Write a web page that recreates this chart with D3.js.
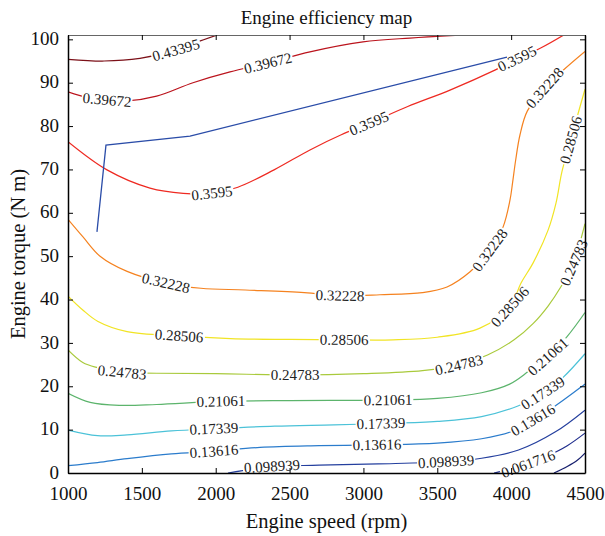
<!DOCTYPE html>
<html>
<head>
<meta charset="utf-8">
<script src="https://cdn.jsdelivr.net/npm/d3@7"></script>
<style>
body { margin: 0; background: #fff; }
text { font-family: "Liberation Serif", "Times New Roman", serif; }
</style>
</head>
<body>
<svg id="map" width="605" height="536"></svg>
<script>
// axis ticks
const speedTicks = [1000, 1500, 2000, 2500, 3000, 3500, 4000, 4500];
const torqueTicks = [0, 10, 20, 30, 40, 50, 60, 70, 80, 90, 100];

// contour levels, highest first; '' = no label drawn
const levelText = ['0.43395', '0.39672', '0.3595', '0.32228', '0.28506', '0.24783',
                   '0.21061', '0.17339', '0.13616', '0.098939', '0.061716', ''];

// contour lines, [speed rpm, torque N m]
const c43395 = [[1000, 95.4], [1244, 95.0], [1487, 95.6], [1731, 97.5], [1860, 99.2], [2002, 100.9]];
const c39672 = [[1000, 87.9], [1130, 86.6], [1264, 86.0], [1399, 85.8], [1600, 86.9], [1846, 90.0],
                [2097, 92.5], [2354, 94.5], [2638, 97.1], [2997, 99.4], [3315, 100.3], [3620, 100.9]];
const c3595 = [[1000, 76.4], [1264, 69.9], [1555, 65.7], [1780, 64.5], [1975, 64.5], [2150, 65.9],
               [2395, 69.9], [2638, 74.5], [2850, 78.0], [3038, 80.6], [3300, 84.5], [3586, 88.3],
               [3890, 92.9], [4040, 95.5], [4200, 98.0], [4351, 100.9]];
const c32228 = [[1000, 58.5], [1100, 54.5], [1217, 50.0], [1400, 46.5], [1663, 43.8], [1900, 42.6],
                [2200, 42.2], [2600, 41.6], [2841, 40.9], [3112, 41.1], [3400, 41.6], [3566, 42.9],
                [3722, 46.4], [3857, 51.4], [3945, 56.7], [3992, 62.9], [4010, 67.0], [4030, 72.0],
                [4060, 78.0], [4110, 83.5], [4229, 88.8], [4350, 92.8], [4500, 97.2]];
const c28506 = [[1000, 40.8], [1100, 37.6], [1200, 35.0], [1400, 32.6], [1752, 31.6], [2100, 31.0],
                [2500, 30.8], [2869, 30.7], [3200, 30.7], [3500, 31.3], [3789, 33.4], [3992, 38.3],
                [4067, 43.8], [4148, 48.4], [4250, 56.0], [4304, 62.3], [4344, 69.5], [4405, 76.8],
                [4450, 82.5], [4500, 88.5]];
const c24783 = [[1000, 28.4], [1100, 25.5], [1200, 24.3], [1366, 23.2], [1600, 23.0], [2000, 22.9],
                [2537, 22.6], [3000, 22.9], [3400, 23.6], [3647, 24.9], [3840, 27.2], [4020, 30.7],
                [4150, 34.5], [4250, 38.5], [4338, 43.0], [4425, 48.5], [4465, 53.0], [4500, 57.5]];
const c21061 = [[1000, 18.4], [1150, 16.3], [1350, 15.6], [1600, 15.8], [2036, 16.5], [2500, 16.7],
                [3166, 16.8], [3500, 17.2], [3800, 18.5], [3990, 20.5], [4120, 23.5], [4250, 26.8],
                [4380, 31.5], [4500, 37.0]];
const c17339 = [[1000, 9.9], [1200, 8.6], [1400, 8.8], [1700, 9.7], [1988, 10.2], [2400, 10.8],
                [2800, 11.1], [3119, 11.4], [3500, 11.9], [3800, 13.0], [4050, 15.5], [4215, 18.4],
                [4350, 22.0], [4500, 27.5]];
const c13616 = [[1000, 1.7], [1200, 2.4], [1400, 3.3], [1700, 4.4], [1988, 5.0], [2300, 5.9],
                [2700, 6.3], [3092, 6.5], [3500, 6.9], [3800, 7.9], [4000, 9.5], [4148, 12.2],
                [4300, 15.5], [4500, 20.5]];
const c098939 = [[2083, 0], [2250, 0.9], [2381, 1.5], [2700, 1.8], [3100, 2.1], [3560, 2.6],
                 [3800, 3.4], [4050, 5.3], [4300, 9.5], [4500, 14.5]];
const c061716 = [[3884, 0], [4000, 0.9], [4115, 2.1], [4250, 4.0], [4380, 6.3], [4500, 9.2]];
const c024493 = [[4290, 0], [4380, 1.5], [4450, 3.0], [4500, 4.6]];

// which points of each line carry the inline label
const c43395Labels = [3];
const c39672Labels = [2, 7];
const c3595Labels = [4, 9, 13];
const c32228Labels = [4, 8, 13, 20];
const c28506Labels = [4, 7, 11, 17];
const c24783Labels = [3, 6, 9, 15];
const c21061Labels = [4, 6, 11];
const c17339Labels = [4, 7, 11];
const c13616Labels = [4, 7, 11];
const c098939Labels = [2, 5];
const c061716Labels = [2];
const c024493Labels = [];

// operating line
const opSpeed = [1196, 1257, 1826, 3972];
const opTorque = [55.6, 75.6, 77.7, 95.9];

const contours = [
    [c43395, c43395Labels], [c39672, c39672Labels], [c3595, c3595Labels], [c32228, c32228Labels],
    [c28506, c28506Labels], [c24783, c24783Labels], [c21061, c21061Labels], [c17339, c17339Labels],
    [c13616, c13616Labels], [c098939, c098939Labels], [c061716, c061716Labels], [c024493, c024493Labels]
];

const lineColors = ['#7c1018', '#bb141d', '#ee2a22', '#f5821f', '#f1e424', '#a9ca3c',
                    '#5cb46c', '#4bc2d8', '#2b7ccc', '#243f9e', '#1e2c8c', '#18206e'];

const svg = d3.select('#map');
const pLeft = 68, pRight = 585, pTop = 35, pBottom = 473;

const x = d3.scaleLinear().domain([1000, 4500]).range([pLeft, pRight]);
const y = d3.scaleLinear().domain([0, 101]).range([pBottom, pTop]);

svg.append('defs').append('clipPath').attr('id', 'plotClip')
    .append('rect')
    .attr('x', pLeft).attr('y', pTop)
    .attr('width', pRight - pLeft).attr('height', pBottom - pTop);

const plot = svg.append('g').attr('clip-path', 'url(#plotClip)');
const line = d3.line()
    .x(d => x(d[0]))
    .y(d => y(d[1]))
    .curve(d3.curveCatmullRom.alpha(0.5));

contours.forEach((c, i) => {
    plot.append('path')
        .attr('d', line(c[0]))
        .attr('fill', 'none')
        .attr('stroke', lineColors[i])
        .attr('stroke-width', 1.2);
});

// inline labels, a white box breaks the line under the text
const labelLayer = svg.append('g');
contours.forEach((c, i) => {
    let pts = c[0];
    c[1].forEach(k => {
        let a = pts[Math.max(k - 1, 0)];
        let b = pts[Math.min(k + 1, pts.length - 1)];
        let ang = Math.atan2(y(b[1]) - y(a[1]), x(b[0]) - x(a[0])) * 180 / Math.PI;
        if (ang > 90) ang -= 180;
        if (ang < -90) ang += 180;
        let g = labelLayer.append('g')
            .attr('transform', `translate(${x(pts[k][0])},${y(pts[k][1])}) rotate(${ang})`);
        let t = g.append('text')
            .attr('text-anchor', 'middle')
            .attr('dy', '0.33em')
            .attr('font-size', 15)
            .attr('fill', '#222')
            .text(levelText[i]);
        let bb = t.node().getBBox();
        g.insert('rect', 'text')
            .attr('x', bb.x - 1)
            .attr('y', -4)
            .attr('width', bb.width + 2)
            .attr('height', 8)
            .attr('fill', '#fff');
    });
});

plot.append('path')
    .attr('d', d3.line().x(d => x(d[0])).y(d => y(d[1]))(opSpeed.map((s, i) => [s, opTorque[i]])))
    .attr('fill', 'none')
    .attr('stroke', '#2a4ca8')
    .attr('stroke-width', 1.3);

// axes, ticks inward on all four sides
function styleAxis(g) {
    g.attr('font-family', null).attr('font-size', 19);
    g.selectAll('text').attr('fill', '#111');
    g.selectAll('line').attr('stroke', '#000');
    g.select('.domain').attr('stroke', '#000').attr('stroke-width', 1.5);
}

svg.append('g')
    .attr('transform', `translate(0,${pBottom})`)
    .call(d3.axisBottom(x).tickValues(speedTicks).tickSize(-5).tickSizeOuter(0).tickPadding(14).tickFormat(d3.format('d')))
    .call(styleAxis);

svg.append('g')
    .attr('transform', `translate(${pLeft},0)`)
    .call(d3.axisLeft(y).tickValues(torqueTicks).tickSize(-5).tickSizeOuter(0).tickPadding(9))
    .call(styleAxis)
    .call(g => g.selectAll('text').attr('dy', '0.27em'));

svg.append('g')
    .attr('transform', `translate(0,${pTop})`)
    .call(d3.axisTop(x).tickValues(speedTicks).tickSize(-5).tickSizeOuter(0).tickFormat(''))
    .call(styleAxis)
    .call(g => g.select('.domain').attr('stroke', '#666').attr('stroke-width', 1));

svg.append('g')
    .attr('transform', `translate(${pRight},0)`)
    .call(d3.axisRight(y).tickValues(torqueTicks).tickSize(-5).tickSizeOuter(0).tickFormat(''))
    .call(styleAxis);

// titles
svg.append('text')
    .attr('x', (pLeft + pRight) / 2).attr('y', 24)
    .attr('text-anchor', 'middle')
    .attr('font-size', 19)
    .attr('fill', '#111')
    .text('Engine efficiency map');

svg.append('text')
    .attr('x', (pLeft + pRight) / 2).attr('y', 528)
    .attr('text-anchor', 'middle')
    .attr('font-size', 20.5)
    .attr('fill', '#111')
    .text('Engine speed (rpm)');

svg.append('text')
    .attr('transform', `translate(25,${(pTop + pBottom) / 2}) rotate(-90)`)
    .attr('text-anchor', 'middle')
    .attr('font-size', 20.5)
    .attr('fill', '#111')
    .text('Engine torque (N m)');
</script>
</body>
</html>
